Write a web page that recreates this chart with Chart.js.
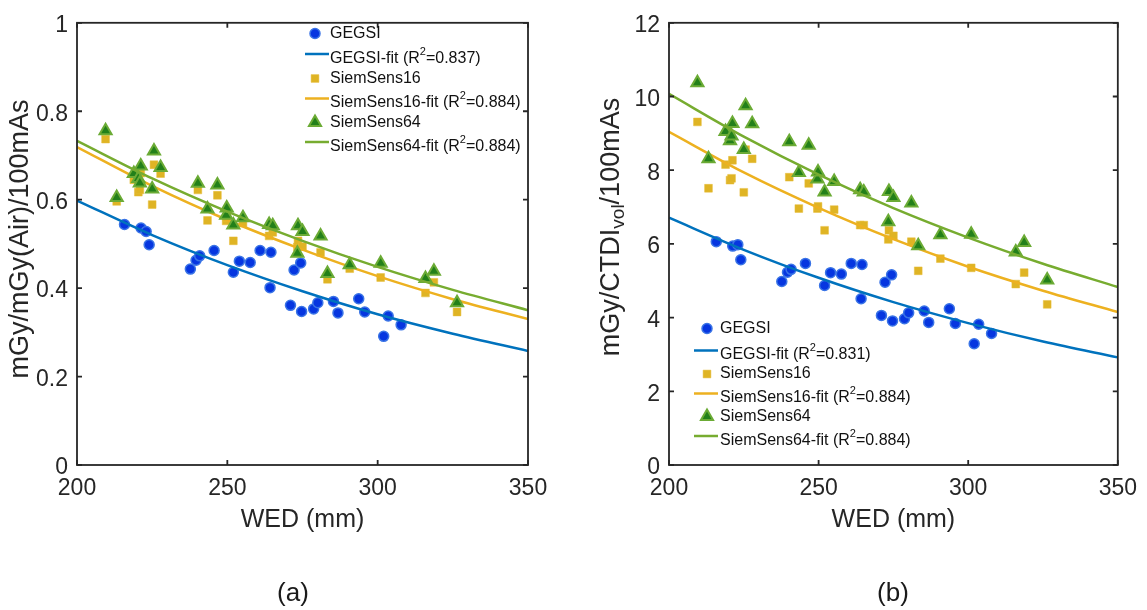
<!DOCTYPE html>
<html>
<head>
<meta charset="utf-8">
<script src="https://cdn.jsdelivr.net/npm/chart.js@4.4.1/dist/chart.umd.min.js"></script>
<style>
  body { margin: 0; background: #fff; width: 1147px; height: 610px; position: relative; overflow: hidden;
         font-family: "Liberation Sans", Arial, sans-serif; }
  canvas { position: absolute; top: 0; }
  #chartA { left: 0; }
  #chartB { left: 573px; }
  .cap { position: absolute; font-size: 26px; color: #1a1a1a; transform: translate(-50%, -50%); }
</style>
</head>
<body>
<canvas id="chartA" width="573" height="610"></canvas>
<canvas id="chartB" width="574" height="610"></canvas>
<div class="cap" style="left:293px;top:592px">(a)</div>
<div class="cap" style="left:893px;top:592px">(b)</div>
<script>
// ---- data ----
const seriesNames = ["GEGSI", "SiemSens16", "SiemSens64"];

// GEGSI patients (WED in mm)
const wedGE = [215.8, 221.3, 223.0, 224.0, 237.7, 239.6, 240.8, 245.6, 252.0, 254.0, 257.6, 260.9, 264.2, 264.5,
  271.0, 272.2, 274.4, 274.7, 278.7, 280.1, 285.3, 286.8, 293.7, 295.7, 302.0, 303.5, 307.8];
const geAir = [0.544, 0.536, 0.528, 0.498, 0.443, 0.463, 0.473, 0.485, 0.436, 0.461, 0.458, 0.485, 0.401, 0.481,
  0.361, 0.441, 0.457, 0.347, 0.353, 0.367, 0.370, 0.344, 0.376, 0.346, 0.291, 0.337, 0.317];
const geCtdi = [6.06, 5.94, 5.98, 5.57, 4.98, 5.23, 5.31, 5.47, 4.87, 5.22, 5.18, 5.47, 4.51, 5.44,
  4.06, 4.96, 5.16, 3.91, 3.97, 4.13, 4.18, 3.87, 4.24, 3.84, 3.29, 3.82, 3.57];

// Siemens patients (WED in mm)
const wedSiem = [209.5, 213.2, 218.9, 220.4, 220.9, 221.2, 225.0, 225.6, 227.8, 240.2, 243.4, 246.7, 249.6, 249.8,
  252.0, 255.2, 263.9, 265.1, 273.3, 273.5, 275.0, 281.0, 283.3, 290.7, 301.0, 315.9, 318.7, 326.4];
const s16Air = [0.737, 0.596, 0.645, 0.617, 0.622, 0.660, 0.589, 0.679, 0.659, 0.622, 0.553, 0.610, 0.552, 0.560,
  0.507, 0.547, 0.518, 0.526, 0.493, 0.507, 0.494, 0.481, 0.420, 0.444, 0.424, 0.389, 0.413, 0.346];
const s64Air = [0.756, 0.605, 0.659, 0.648, 0.638, 0.676, 0.624, 0.710, 0.673, 0.637, 0.579, 0.633, 0.565, 0.581,
  0.543, 0.559, 0.544, 0.541, 0.479, 0.541, 0.528, 0.518, 0.433, 0.453, 0.456, 0.422, 0.438, 0.367];
const s16Ctdi = [9.31, 7.51, 8.15, 7.73, 7.78, 8.27, 7.40, 8.56, 8.31, 7.81, 6.96, 7.64, 6.96, 7.02,
  6.37, 6.93, 6.51, 6.51, 6.12, 6.37, 6.22, 6.06, 5.27, 5.60, 5.35, 4.91, 5.22, 4.36];
const s64Ctdi = [10.37, 8.31, 9.05, 8.80, 8.93, 9.27, 8.56, 9.75, 9.26, 8.77, 7.94, 8.68, 7.76, 7.95,
  7.41, 7.69, 7.47, 7.41, 6.60, 7.42, 7.26, 7.11, 5.95, 6.25, 6.26, 5.78, 6.04, 5.02];

// fitted curves, read at these WED values
const wedFit = [200, 225, 250, 275, 300, 325, 350];
const geAirFit = [0.598, 0.520, 0.452, 0.393, 0.341, 0.297, 0.258];
const s16AirFit = [0.719, 0.631, 0.554, 0.487, 0.427, 0.375, 0.330];
const s64AirFit = [0.733, 0.648, 0.573, 0.507, 0.448, 0.396, 0.350];
const geCtdiFit = [6.71, 5.84, 5.08, 4.42, 3.85, 3.35, 2.92];
const s16CtdiFit = [9.04, 7.94, 6.98, 6.13, 5.38, 4.73, 4.15];
const s64CtdiFit = [10.07, 8.91, 7.88, 6.97, 6.17, 5.46, 4.83];

const r2Air = ["0.837", "0.884", "0.884"];
const r2Ctdi = ["0.831", "0.884", "0.884"];

const xTicks = [200, 250, 300, 350];
const yTicksAir = [0, 0.2, 0.4, 0.6, 0.8, 1];
const yTicksCtdi = [0, 2, 4, 6, 8, 10, 12];

const FONT = '"Liberation Sans", Arial, sans-serif';
Chart.defaults.font.family = FONT;
const AXIS = "#262626";

function pts(xs, ys) {
  return xs.map((x, i) => ({ x: x, y: ys[i] }));
}

// box around the axes with inward ticks on all four sides (matlab style)
const boxTicks = {
  id: "boxTicks",
  afterDatasetsDraw(chart) {
    const { ctx, chartArea: a, scales } = chart;
    ctx.save();
    ctx.strokeStyle = AXIS;
    ctx.lineWidth = 1.8;
    ctx.strokeRect(a.left, a.top, a.right - a.left, a.bottom - a.top);
    ctx.beginPath();
    scales.x.ticks.forEach((t) => {
      const px = scales.x.getPixelForValue(t.value);
      ctx.moveTo(px, a.bottom); ctx.lineTo(px, a.bottom - 5);
      ctx.moveTo(px, a.top); ctx.lineTo(px, a.top + 5);
    });
    scales.y.ticks.forEach((t) => {
      const py = scales.y.getPixelForValue(t.value);
      ctx.moveTo(a.left, py); ctx.lineTo(a.left + 5, py);
      ctx.moveTo(a.right, py); ctx.lineTo(a.right - 5, py);
    });
    ctx.stroke();
    ctx.restore();
  },
};

// rotated y title, with an optional subscript part
const yTitle = {
  id: "yTitle",
  afterDraw(chart, args, opts) {
    const ctx = chart.ctx;
    ctx.save();
    ctx.translate(opts.x, opts.y);
    ctx.rotate(-Math.PI / 2);
    ctx.fillStyle = AXIS;
    ctx.textBaseline = "middle";
    ctx.textAlign = "left";
    const big = opts.size + "px " + FONT;
    const small = Math.round(opts.size * 0.7) + "px " + FONT;
    let total = 0;
    opts.parts.forEach((p) => {
      ctx.font = p.sub ? small : big;
      p.w = ctx.measureText(p.text).width;
      total += p.w;
    });
    let cx = -total / 2;
    opts.parts.forEach((p) => {
      ctx.font = p.sub ? small : big;
      ctx.fillText(p.text, cx, p.sub ? 7 : 0);
      cx += p.w;
    });
    ctx.restore();
  },
};

// legend drawn in place, R^2 with a real superscript
const fitLegend = {
  id: "fitLegend",
  afterDraw(chart, args, opts) {
    const ctx = chart.ctx;
    ctx.save();
    ctx.textBaseline = "middle";
    chart.data.datasets.forEach((ds, i) => {
      const ty = opts.rows[i];
      if (ds.showLine) {
        ctx.strokeStyle = ds.borderColor;
        ctx.lineWidth = 2.5;
        ctx.beginPath();
        ctx.moveTo(opts.lineX0, ty - 4.5);
        ctx.lineTo(opts.lineX1, ty - 4.5);
        ctx.stroke();
      } else {
        ctx.fillStyle = ds.backgroundColor;
        ctx.strokeStyle = ds.borderColor;
        ctx.lineWidth = ds.borderWidth;
        Chart.helpers.drawPoint(ctx, { pointStyle: ds.pointStyle, radius: ds.pointRadius, rotation: 0,
          borderWidth: ds.borderWidth }, opts.markX, ty);
      }
      ctx.fillStyle = "#111";
      let x = opts.textX;
      if (ds.r2) {
        const pre = ds.label + " (R";
        ctx.font = "16px " + FONT;
        ctx.fillText(pre, x, ty);
        x += ctx.measureText(pre).width;
        ctx.font = "11px " + FONT;
        ctx.fillText("2", x, ty - 7);
        x += ctx.measureText("2").width;
        ctx.font = "16px " + FONT;
        ctx.fillText("=" + ds.r2 + ")", x, ty);
      } else {
        ctx.font = "16px " + FONT;
        ctx.fillText(ds.label, x, ty);
      }
    });
    ctx.restore();
  },
};

function makeDatasets(ge, geFit, s16, s16Fit, s64, s64Fit, r2) {
  return [
    { label: seriesNames[0], data: pts(wedGE, ge), pointStyle: "circle", pointRadius: 5,
      backgroundColor: "#0636e0", borderColor: "#3a74e6", borderWidth: 1.5, order: 6 },
    { label: seriesNames[0] + "-fit", r2: r2[0], data: pts(wedFit, geFit), showLine: true, pointRadius: 0,
      borderColor: "#0072BD", borderWidth: 2.5, cubicInterpolationMode: "monotone", order: 5 },
    { label: seriesNames[1], data: pts(wedSiem, s16), pointStyle: "rect", pointRadius: 5.5,
      backgroundColor: "#dfb424", borderColor: "#e6bd3a", borderWidth: 0.5, order: 4 },
    { label: seriesNames[1] + "-fit", r2: r2[1], data: pts(wedFit, s16Fit), showLine: true, pointRadius: 0,
      borderColor: "#EDB120", borderWidth: 2.5, cubicInterpolationMode: "monotone", order: 3 },
    { label: seriesNames[2], data: pts(wedSiem, s64), pointStyle: "triangle", pointRadius: 7,
      backgroundColor: "#23801a", borderColor: "#6bab35", borderWidth: 2, order: 2 },
    { label: seriesNames[2] + "-fit", r2: r2[2], data: pts(wedFit, s64Fit), showLine: true, pointRadius: 0,
      borderColor: "#77AC30", borderWidth: 2.5, cubicInterpolationMode: "monotone", order: 1 },
  ];
}

function makePanel(id, cfg) {
  const ctx = document.getElementById(id).getContext("2d");
  return new Chart(ctx, {
    type: "scatter",
    data: { datasets: cfg.datasets },
    options: {
      responsive: false,
      animation: false,
      layout: { padding: { top: 15, right: cfg.padRight, left: 0, bottom: 0 } },
      plugins: {
        legend: { display: false },
        tooltip: { enabled: false },
        yTitle: cfg.yTitle,
        fitLegend: cfg.legend,
      },
      scales: {
        x: {
          type: "linear", min: 200, max: 350,
          afterBuildTicks: (s) => { s.ticks = xTicks.map((v) => ({ value: v })); },
          afterFit: (s) => { s.height = 145; },
          grid: { display: false, drawTicks: false },
          border: { display: false },
          ticks: { color: AXIS, font: { size: 23 }, padding: 10, callback: (v) => String(v) },
          title: { display: true, text: "WED (mm)", color: AXIS, font: { size: 25 }, padding: { top: 0, bottom: 75 } },
        },
        y: {
          type: "linear", min: cfg.yTicks[0], max: cfg.yTicks[cfg.yTicks.length - 1],
          afterBuildTicks: (s) => { s.ticks = cfg.yTicks.map((v) => ({ value: v })); },
          afterFit: (s) => { s.width = cfg.yWidth; },
          grid: { display: false, drawTicks: false },
          border: { display: false },
          ticks: { color: AXIS, font: { size: 23 }, padding: 9, labelOffset: 3, callback: (v) => String(v) },
        },
      },
    },
    plugins: [boxTicks, yTitle, fitLegend],
  });
}

makePanel("chartA", {
  datasets: makeDatasets(geAir, geAirFit, s16Air, s16AirFit, s64Air, s64AirFit, r2Air),
  yTicks: yTicksAir,
  yWidth: 77,
  padRight: 45,
  yTitle: { x: 21, y: 239, size: 27, parts: [{ text: "mGy/mGy(Air)/100mAs" }] },
  legend: { markX: 315, lineX0: 305, lineX1: 329, textX: 330, rows: [33.5, 58.5, 78.5, 103, 122.5, 146.5] },
});

makePanel("chartB", {
  datasets: makeDatasets(geCtdi, geCtdiFit, s16Ctdi, s16CtdiFit, s64Ctdi, s64CtdiFit, r2Ctdi),
  yTicks: yTicksCtdi,
  yWidth: 96,
  padRight: 28,
  yTitle: { x: 39, y: 227, size: 27, parts: [{ text: "mGy/CTDI" }, { text: "vol", sub: true }, { text: "/100mAs" }] },
  legend: { markX: 134, lineX0: 121, lineX1: 145, textX: 147, rows: [328.5, 355, 374, 398, 416.5, 440.5] },
});
</script>
</body>
</html>
